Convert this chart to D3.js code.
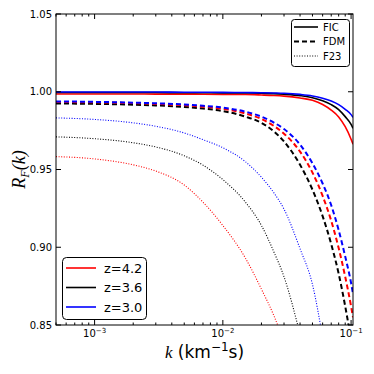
<!DOCTYPE html>
<html>
<head>
  <meta charset="utf-8" />
  <script src="https://d3js.org/d3.v7.min.js"></script>
  <style>
    body { margin: 0; background: #fff; }
    text { font-family: "DejaVu Sans", sans-serif; fill: #000; }
    .curve { fill: none; }
    .math { font-family: "Liberation Serif", serif; font-style: italic; }
  </style>
</head>
<body>
  <svg id="chart" width="374" height="374"></svg>
  <script>
    // k grid (km^-1 s)
    const kGrid = [5e-4, 1e-3, 2e-3, 3e-3, 5e-3, 7e-3, 1e-2, 1.5e-2, 2e-2, 2.5e-2, 3e-2, 4e-2, 5e-2, 6e-2, 7e-2, 8e-2, 9e-2, 0.1, 0.1035];

    // FIC (solid)
    const ficZ42 = [0.9986, 0.9986, 0.9986, 0.9985, 0.9985, 0.9984, 0.9983, 0.9982, 0.9979, 0.9976, 0.9972, 0.9960, 0.9945, 0.9918, 0.9882, 0.9838, 0.9775, 0.9695, 0.9663];
    const ficZ36 = [0.9995, 0.9995, 0.9995, 0.9995, 0.9994, 0.9994, 0.9993, 0.9992, 0.9990, 0.9988, 0.9984, 0.9975, 0.9962, 0.9942, 0.9917, 0.9885, 0.9840, 0.9790, 0.9765];
    const ficZ30 = [0.9998, 0.9998, 0.9998, 0.9998, 0.9997, 0.9997, 0.9996, 0.9995, 0.9994, 0.9992, 0.9990, 0.9983, 0.9973, 0.9958, 0.9940, 0.9917, 0.9887, 0.9853, 0.9835];

    // FDM (dashed)
    const fdmZ42 = [0.9934, 0.9932, 0.9927, 0.9922, 0.9913, 0.9904, 0.9890, 0.9860, 0.9825, 0.9780, 0.9730, 0.9615, 0.9480, 0.9330, 0.9170, 0.8995, 0.8810, 0.8620, 0.8550];
    const fdmZ36 = [0.9925, 0.9922, 0.9917, 0.9912, 0.9902, 0.9892, 0.9876, 0.9840, 0.9800, 0.9745, 0.9680, 0.9530, 0.9370, 0.9200, 0.9020, 0.8830, 0.8620, 0.8400, 0.8320];
    const fdmZ30 = [0.9938, 0.9935, 0.9930, 0.9926, 0.9918, 0.9910, 0.9898, 0.9872, 0.9840, 0.9802, 0.9760, 0.9660, 0.9540, 0.9410, 0.9270, 0.9110, 0.8940, 0.8770, 0.8700];

    // F23 (dotted), null = off the plot
    const f23Z42 = [0.9583, 0.9568, 0.9530, 0.9490, 0.9400, 0.9290, 0.9140, 0.8930, 0.8730, 0.8560, 0.8390, null, null, null, null, null, null, null, null];
    const f23Z36 = [0.9710, 0.9698, 0.9672, 0.9645, 0.9588, 0.9528, 0.9435, 0.9290, 0.9140, 0.8970, 0.8810, 0.8440, null, null, null, null, null, null, null];
    const f23Z30 = [0.9832, 0.9822, 0.9800, 0.9778, 0.9735, 0.9692, 0.9640, 0.9550, 0.9450, 0.9350, 0.9245, 0.8990, 0.8760, 0.8420, null, null, null, null, null];

    const redshifts = ["z=4.2", "z=3.6", "z=3.0"];
    const zColors = ["#ff0000", "#000000", "#0000ff"];
    const models = ["FIC", "FDM", "F23"];
    const yTicks = [0.85, 0.90, 0.95, 1.00, 1.05];
    const xMajor = [1e-3, 1e-2, 1e-1];
    const xMajorLabels = ["-3", "-2", "-1"];

    const svg = d3.select("#chart");
    const margin = { top: 14, right: 21, bottom: 49, left: 56 };
    const width = 374, height = 374;

    const x = d3.scaleLog().domain([5e-4, 0.1035]).range([margin.left, width - margin.right]);
    const y = d3.scaleLinear().domain([0.85, 1.05]).range([height - margin.bottom, margin.top]);

    const x0 = x.range()[0], x1 = x.range()[1];
    const y0 = y.range()[0], y1 = y.range()[1];

    svg.append("clipPath").attr("id", "plotclip")
      .append("rect").attr("x", x0).attr("y", y1).attr("width", x1 - x0).attr("height", y0 - y1);

    const styles = {
      FIC: { width: 1.6, dash: null },
      FDM: { width: 2, dash: "5,3" },
      F23: { width: 1.1, dash: "1,1.6" }
    };

    const series = [
      { model: "FIC", z: 0, v: ficZ42 }, { model: "FIC", z: 1, v: ficZ36 }, { model: "FIC", z: 2, v: ficZ30 },
      { model: "FDM", z: 1, v: fdmZ36 }, { model: "FDM", z: 0, v: fdmZ42 }, { model: "FDM", z: 2, v: fdmZ30 },
      { model: "F23", z: 0, v: f23Z42 }, { model: "F23", z: 1, v: f23Z36 }, { model: "F23", z: 2, v: f23Z30 }
    ];

    const line = d3.line()
      .defined(d => d[1] != null)
      .x(d => x(d[0]))
      .y(d => y(d[1]))
      .curve(d3.curveMonotoneX);

    const plot = svg.append("g").attr("clip-path", "url(#plotclip)");
    series.forEach(s => {
      const st = styles[s.model];
      plot.append("path")
        .datum(kGrid.map((k, i) => [k, s.v[i]]))
        .attr("class", "curve")
        .attr("stroke", zColors[s.z])
        .attr("stroke-width", st.width)
        .attr("stroke-dasharray", st.dash)
        .attr("d", line);
    });

    // frame
    svg.append("rect")
      .attr("x", x0).attr("y", y1).attr("width", x1 - x0).attr("height", y0 - y1)
      .attr("fill", "none").attr("stroke", "#000").attr("stroke-width", 1);

    // x ticks (inside, top and bottom)
    const xMinor = [];
    [1e-4, 1e-3, 1e-2].forEach(d => { for (let m = 2; m <= 9; m++) { const v = m * d; if (v >= 5e-4 && v <= 0.1035) xMinor.push(v); } });
    const ticks = svg.append("g").attr("stroke", "#000").attr("stroke-width", 1);
    xMajor.forEach(v => {
      ticks.append("line").attr("x1", x(v)).attr("x2", x(v)).attr("y1", y0).attr("y2", y0 - 5);
      ticks.append("line").attr("x1", x(v)).attr("x2", x(v)).attr("y1", y1).attr("y2", y1 + 5);
    });
    xMinor.forEach(v => {
      ticks.append("line").attr("x1", x(v)).attr("x2", x(v)).attr("y1", y0).attr("y2", y0 - 2.5);
      ticks.append("line").attr("x1", x(v)).attr("x2", x(v)).attr("y1", y1).attr("y2", y1 + 2.5);
    });
    yTicks.forEach(v => {
      ticks.append("line").attr("x1", x0).attr("x2", x0 + 5).attr("y1", y(v)).attr("y2", y(v));
      ticks.append("line").attr("x1", x1).attr("x2", x1 - 5).attr("y1", y(v)).attr("y2", y(v));
    });

    // tick labels
    yTicks.forEach(v => {
      svg.append("text")
        .attr("x", x0 - 4).attr("y", y(v)).attr("dy", "0.36em")
        .attr("text-anchor", "end").attr("font-size", 10)
        .text(v.toFixed(2));
    });
    xMajor.forEach((v, i) => {
      const t = svg.append("text")
        .attr("x", x(v)).attr("y", y0 + 12)
        .attr("text-anchor", "middle").attr("font-size", 10);
      t.append("tspan").text("10");
      t.append("tspan").attr("dy", -4).attr("font-size", 7).text(xMajorLabels[i].replace("-", "\u2212"));
    });

    // axis titles
    const xl = svg.append("text")
      .attr("x", (x0 + x1) / 2).attr("y", 358)
      .attr("text-anchor", "middle").attr("font-size", 17);
    xl.append("tspan").attr("class", "math").text("k");
    xl.append("tspan").text(" (km");
    xl.append("tspan").attr("dy", -7).attr("font-size", 12).text("\u22121");
    xl.append("tspan").attr("dy", 7).text("s)");

    const yl = svg.append("text")
      .attr("transform", "translate(25," + ((y0 + y1) / 2) + ") rotate(-90)")
      .attr("text-anchor", "middle").attr("font-size", 18).attr("class", "math");
    yl.append("tspan").text("R");
    yl.append("tspan").attr("dy", 4).attr("font-size", 12).text("F");
    yl.append("tspan").attr("dy", -4).text("(k)");

    // model legend (top right)
    const leg1 = svg.append("g");
    leg1.append("rect").attr("x", 291.5).attr("y", 19.5).attr("width", 58).attr("height", 47).attr("rx", 3)
      .attr("fill", "#fff").attr("stroke", "#000").attr("stroke-width", 1);
    models.forEach((m, i) => {
      const yy = 27 + i * 14.5;
      leg1.append("line").attr("x1", 294).attr("x2", 318).attr("y1", yy).attr("y2", yy)
        .attr("stroke", "#000").attr("stroke-width", styles[m].width)
        .attr("stroke-dasharray", styles[m].dash);
      leg1.append("text").attr("x", 323).attr("y", yy).attr("dy", "0.36em").attr("font-size", 10).text(m);
    });

    // redshift legend (bottom left)
    const leg2 = svg.append("g");
    leg2.append("rect").attr("x", 62.5).attr("y", 257.5).attr("width", 84).attr("height", 62).attr("rx", 4)
      .attr("fill", "#fff").attr("stroke", "#000").attr("stroke-width", 1);
    redshifts.forEach((z, i) => {
      const yy = 268 + i * 19.5;
      leg2.append("line").attr("x1", 66).attr("x2", 96).attr("y1", yy).attr("y2", yy)
        .attr("stroke", zColors[i]).attr("stroke-width", 1.6);
      leg2.append("text").attr("x", 104).attr("y", yy).attr("dy", "0.36em").attr("font-size", 13).text(z);
    });
  </script>
</body>
</html>
